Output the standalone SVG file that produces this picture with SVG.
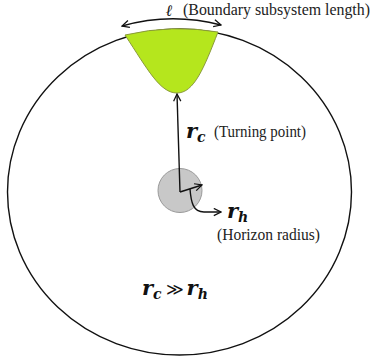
<svg xmlns="http://www.w3.org/2000/svg" width="371" height="362" viewBox="0 0 371 362">
<style>
.lbl{font-size:16px;fill:#222}
.math{font-weight:bold;font-style:italic;fill:#111}
.ln{fill:none;stroke:#111;stroke-width:1.4}
</style>
<defs>
<marker id="ah" viewBox="0 0 10 10" refX="9" refY="5" markerWidth="9" markerHeight="9" orient="auto-start-reverse" markerUnits="userSpaceOnUse">
<path d="M1,1 L9,5 L1,9" fill="none" stroke="#111" stroke-width="1.4"/>
</marker>
</defs>
<rect width="371" height="362" fill="#fff"/>
<g id="bulk">
<ellipse cx="179.5" cy="192" rx="172" ry="163" fill="none" stroke="#111" stroke-width="1.4"/>
</g>
<g id="subsystem">
<path d="M125,35 C148,70 160,93 177,93 C194,93 204,68 218,32 Q172,24 125,35 Z" fill="#b5e61d" stroke="#8a9a3a" stroke-width="1"/>
</g>
<g id="horizon">
<circle cx="180" cy="190.5" r="22" fill="#c8c8c8" stroke="#999" stroke-width="1"/>
</g>
<g id="connectors">
<path class="ln" d="M122,26 Q171,12 221,25" marker-start="url(#ah)" marker-end="url(#ah)"/>
<path class="ln" d="M180,192 L177,94" marker-end="url(#ah)"/>
<path class="ln" d="M180,192 L202,185" marker-end="url(#ah)"/>
<path class="ln" d="M190,189 C191,202 193,212 204,212 L221,212" marker-end="url(#ah)"/>
</g>
<g id="labels" font-family="Liberation Serif, DejaVu Serif, serif">
<text x="166" y="16" class="math" font-size="16" font-family="DejaVu Serif, serif">ℓ</text>
<text x="183" y="15" class="lbl" textLength="187" lengthAdjust="spacingAndGlyphs">(Boundary subsystem length)</text>
<g font-family="DejaVu Serif, serif">
<text x="186" y="138" class="math" font-size="21">r<tspan font-size="14" dy="4">c</tspan></text>
<text x="227" y="218" class="math" font-size="21">r<tspan font-size="14" dy="4">h</tspan></text>
<text x="142" y="295" class="math" font-size="21">r<tspan font-size="14" dy="4">c</tspan><tspan font-size="17" font-weight="normal" font-style="normal" dy="-4" dx="4">≫</tspan><tspan dx="3">r</tspan><tspan font-size="14" dy="4">h</tspan></text>
</g>
<text x="214" y="137" class="lbl" textLength="92" lengthAdjust="spacingAndGlyphs">(Turning point)</text>
<text x="217" y="240" class="lbl" textLength="103" lengthAdjust="spacingAndGlyphs">(Horizon radius)</text>
</g>
</svg>
